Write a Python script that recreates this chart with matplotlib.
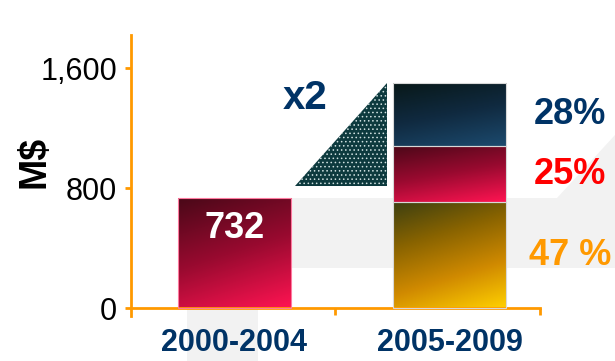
import numpy as np
import matplotlib
matplotlib.use("Agg")
import matplotlib.pyplot as plt
from matplotlib.colors import LinearSegmentedColormap
from matplotlib.patches import Polygon

periods = ["2000-2004", "2005-2009"]
first_total = 732
second_total = 1500
shares = [47, 25, 28]          # bottom -> top
share_colors = ["#ff9900", "#ff0000", "#003366"]
y_ticks = [0, 800, 1600]
y_tick_labels = ["0", "800", "1,600"]

ORANGE = "#ff9900"
NAVY = "#003366"

plt.rcParams["font.family"] = ["Liberation Sans", "DejaVu Sans"]
plt.rcParams["hatch.linewidth"] = 0.6

fig = plt.figure(figsize=(6.15, 3.61), dpi=100)

# faint grey bent arrow behind the chart
bg = fig.add_axes([0, 0, 1, 1], zorder=0)
bg.set_xlim(0, 615)
bg.set_ylim(361, 0)
bg.axis("off")
bg.add_patch(Polygon(
    [(187, 361), (258, 361), (258, 268), (615, 268), (615, 135),
     (557, 198), (187, 198)],
    closed=True, facecolor="#f2f2f2", edgecolor="none"))

ax = fig.add_axes([131 / 615, 45 / 361, 484 / 615, 281 / 361], zorder=1)
ax.patch.set_alpha(0)
ax.set_xlim(-0.48, 1.766)
ax.set_ylim(-53, 1820)

cmaps = {
    "red": LinearSegmentedColormap.from_list(
        "red", ["#4a0818", "#9a0a30", "#ff1452"]),
    "gold": LinearSegmentedColormap.from_list(
        "gold", ["#3e4010", "#8a6400", "#d08a00", "#ffd000"]),
    "blue": LinearSegmentedColormap.from_list(
        "blue", ["#081818", "#102a40", "#1c4a6e"]),
}


def fill_gradient(patch, cmap):
    x0, y0 = patch.get_x(), patch.get_y()
    w, h = patch.get_width(), patch.get_height()
    yy, xx = np.mgrid[0:1:100j, 0:1:100j]
    grad = 0.75 * yy + 0.25 * xx
    im = ax.imshow(grad, cmap=cmap, extent=(x0, x0 + w, y0, y0 + h),
                   aspect="auto", origin="upper", zorder=2,
                   interpolation="bilinear")
    im.set_clip_path(patch)
    patch.set_facecolor("none")


bar_w = 0.525
b1 = ax.bar(0, first_total, width=bar_w, edgecolor="#ff7aa0", linewidth=0.8,
            zorder=3)
fill_gradient(b1[0], cmaps["red"])
ax.text(0, first_total * 0.72, str(first_total), color="white",
        fontsize=26, fontweight="bold", ha="center", va="center", zorder=4)

seg_vals = [second_total * s / 100 for s in shares]
bottom = 0
for val, key, pct, col in zip(seg_vals, ["gold", "red", "blue"], shares,
                              share_colors):
    seg = ax.bar(1, val, bottom=bottom, width=bar_w, edgecolor="#d8d8d8",
                 linewidth=0.8, zorder=3)
    fill_gradient(seg[0], cmaps[key])
    label = f"{pct} %" if key == "gold" else f"{pct}%"
    ax.text(1.557, bottom + val / 2, label, color=col, fontsize=26,
            fontweight="bold", ha="center", va="center")
    bottom += val

# growth wedge with dotted fill
wedge = Polygon([(0.281, 813), (0.708, 813), (0.708, second_total)],
                closed=True, facecolor="#0d3a3e", edgecolor="#cfe0e0",
                hatch="....", linewidth=0, zorder=2)
ax.add_patch(wedge)
ax.text(0.33, 1400, "x2", color=NAVY, fontsize=29, fontweight="bold",
        ha="center", va="center")

# axes styling
for side in ["top", "right"]:
    ax.spines[side].set_visible(False)
ax.spines["left"].set_color(ORANGE)
ax.spines["left"].set_linewidth(2)
ax.spines["left"].set_bounds(-53, 1820)
ax.spines["bottom"].set_color(ORANGE)
ax.spines["bottom"].set_linewidth(2)
ax.spines["bottom"].set_position(("data", 0))
ax.spines["bottom"].set_bounds(-0.48, 1.42)

ax.set_yticks(y_ticks)
ax.set_yticklabels(y_tick_labels)
ax.tick_params(axis="y", colors=ORANGE, labelcolor="black", labelsize=22,
               length=4, width=2, pad=6)
ax.set_xticks([0.466, 1.42])
ax.set_xticklabels([])
ax.tick_params(axis="x", colors=ORANGE, length=5, width=2, direction="out")

for i, p in enumerate(periods):
    ax.text(i, -233, p, color=NAVY, fontsize=22, fontweight="bold",
            ha="center", va="center")

fig.text(35 / 615, 1 - 162 / 361, "M$", rotation=90, fontsize=27,
         fontweight="bold", ha="center", va="center", color="black")

fig.savefig("out.png", dpi=100)
